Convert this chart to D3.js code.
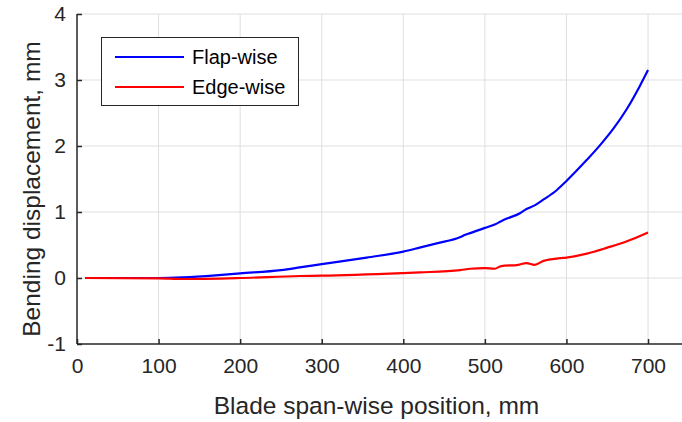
<!DOCTYPE html>
<html><head><meta charset="utf-8">
<script src="https://cdn.jsdelivr.net/npm/d3@7"></script>
<style>body{margin:0;background:#fff}svg{display:block}</style>
</head><body><svg id="c" width="682" height="422"></svg>
<script>
const flapPos = [10,50,100,130,170,200,250,273,300,355,400,420,441,470,475,482,500,512,520,527,543,551,561,572,588,600,612,625,641,658,674,690,700];
const flapVal = [0,0,0.0,0.01,0.04,0.07,0.12,0.16,0.21,0.31,0.40,0.46,0.525,0.62,0.65,0.68,0.76,0.81,0.86,0.90,0.98,1.045,1.1,1.19,1.33,1.47,1.62,1.79,2.01,2.27,2.56,2.91,3.15];
const edgePos = [10,100,130,200,273,300,400,420,470,482,500,512,520,541,551,561,572,592,600,625,650,675,700];
const edgeVal = [0,-0.005,-0.015,0.0,0.03,0.035,0.075,0.085,0.12,0.14,0.15,0.14,0.18,0.20,0.225,0.20,0.26,0.30,0.31,0.37,0.46,0.56,0.69];
const xTicks = [0,100,200,300,400,500,600,700];
const yTicks = [-1,0,1,2,3,4];
const seriesNames = ["Flap-wise","Edge-wise"];
const seriesColors = ["#0000ff","#ff0000"];

const svg = d3.select("#c");
const L=77, T=14, B=344;
const x = d3.scaleLinear().domain([0,800]).range([L,729.6]);
const y = d3.scaleLinear().domain([-1,4]).range([B,T]);
const axisCol="#262626", font="'Liberation Sans', Arial, Helvetica, sans-serif";
const fmt = d => String(d);

// grid
svg.append("g").selectAll("line").data(xTicks.filter(d=>d>0)).join("line")
  .attr("x1",d=>x(d)).attr("x2",d=>x(d)).attr("y1",T).attr("y2",B)
  .attr("stroke","#dfdfdf").attr("stroke-width",1);
svg.append("g").selectAll("line").data(yTicks.filter(d=>d>-1)).join("line")
  .attr("x1",L).attr("x2",682).attr("y1",d=>y(d)).attr("y2",d=>y(d))
  .attr("stroke","#dfdfdf").attr("stroke-width",1);

// axes
const xa = svg.append("g").attr("transform",`translate(0,${B})`)
  .call(d3.axisBottom(x).tickValues(xTicks).tickSizeInner(-5).tickSizeOuter(0).tickPadding(14).tickFormat(fmt));
const ya = svg.append("g").attr("transform",`translate(${L},0)`)
  .call(d3.axisLeft(y).tickValues(yTicks).tickSizeInner(-5).tickSizeOuter(0).tickPadding(11).tickFormat(fmt));
[xa,ya].forEach(a=>{
  a.select(".domain").attr("stroke",axisCol).attr("stroke-width",1.5);
  a.selectAll(".tick line").attr("stroke",axisCol).attr("stroke-width",1.5);
  a.selectAll(".tick text").attr("fill",axisCol).style("font-family",font).style("font-size","21px");
});
xa.select(".domain").attr("d",`M${L},0H682`);
ya.select(".domain").attr("d",`M0,${T}V${B}`);

// lines
const line = d3.line().x(d=>x(d[0])).y(d=>y(d[1])).curve(d3.curveMonotoneX);
const flap = flapPos.map((p,i)=>[p,flapVal[i]]);
const edge = edgePos.map((p,i)=>[p,edgeVal[i]]);
[flap,edge].forEach((data,i)=>{
  svg.append("path").datum(data).attr("d",line).attr("fill","none")
    .attr("stroke",seriesColors[i]).attr("stroke-width",2.2).attr("stroke-linejoin","round");
});

// axis labels
svg.append("text").attr("x",(L+648)/2+14).attr("y",414).attr("text-anchor","middle")
  .attr("fill",axisCol).style("font-family",font).style("font-size","24.5px").text("Blade span-wise position, mm");
svg.append("text").attr("transform",`translate(40,${(T+B)/2+10}) rotate(-90)`).attr("text-anchor","middle")
  .attr("fill",axisCol).style("font-family",font).style("font-size","24.5px").text("Bending displacement, mm");

// legend
const lg = svg.append("g");
lg.append("rect").attr("x",101.5).attr("y",37.5).attr("width",197).attr("height",68)
  .attr("fill","#fff").attr("stroke",axisCol).attr("stroke-width",1);
seriesNames.forEach((n,i)=>{
  const yy = 57 + i*30;
  lg.append("line").attr("x1",115).attr("x2",184).attr("y1",yy).attr("y2",yy)
    .attr("stroke",seriesColors[i]).attr("stroke-width",2.2);
  lg.append("text").attr("x",192).attr("y",yy+7).attr("fill","#000")
    .style("font-family",font).style("font-size","20px").text(n);
});
</script></body></html>
